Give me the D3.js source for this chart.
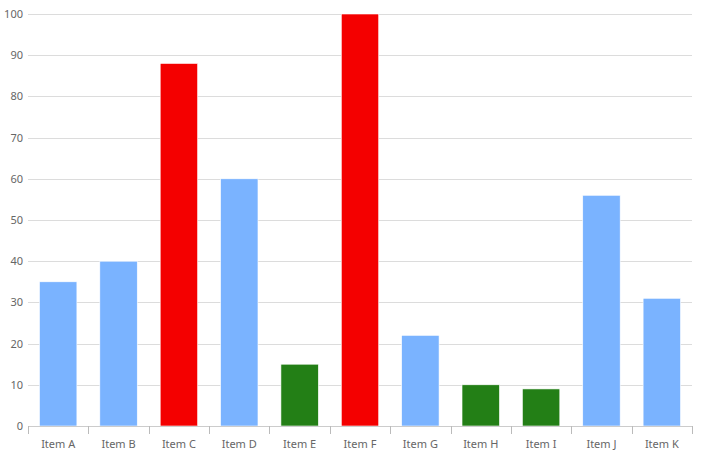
<!DOCTYPE html>
<html><head><meta charset="utf-8">
<script src="https://cdn.jsdelivr.net/npm/d3@7"></script>
<style>body{margin:0;background:#fff;}svg{display:block;}</style>
</head><body><svg id="c" width="702" height="456"></svg>
<script>
const categories = ["Item A","Item B","Item C","Item D","Item E","Item F","Item G","Item H","Item I","Item J","Item K"];
const values = [35,40,88,60,15,100,22,10,9,56,31];
const colorKeys = ["blue","blue","red","blue","green","red","blue","green","green","blue","blue"];
const yTicks = [0,10,20,30,40,50,60,70,80,90,100];
const palette = {blue:"#7ab3ff", red:"#f40000", green:"#237f16"};

(function(){
const svg = d3.select("#c");
const mLeft = 28, mRight = 692, mTop = 14, mBottom = 426;
const x = d3.scaleBand().domain(categories).range([mLeft, mRight]).paddingInner(0).paddingOuter(0);
const y = d3.scaleLinear().domain([0,100]).range([mBottom, mTop]);
const font = "'Noto Sans', sans-serif";

// gridlines
svg.append("g").selectAll("line").data(yTicks.filter(d=>d>0)).join("line")
  .attr("x1", mLeft).attr("x2", mRight)
  .attr("y1", d=>Math.round(y(d))+0.5).attr("y2", d=>Math.round(y(d))+0.5)
  .attr("stroke", "#dcdcdc").attr("stroke-width", 1);

// y labels
svg.append("g").selectAll("text").data(yTicks).join("text")
  .attr("x", 23).attr("y", d=>y(d)+4)
  .attr("text-anchor","end").attr("font-family",font).attr("font-size","11px").attr("fill","#666")
  .text(d=>d);

// bars
const bw = x.bandwidth()*0.62;
svg.append("g").selectAll("rect").data(values).join("rect")
  .attr("x",(d,i)=>x(categories[i]) + (x.bandwidth()-bw)/2)
  .attr("width", bw)
  .attr("y", d=>y(d))
  .attr("height", d=>mBottom - y(d))
  .attr("fill",(d,i)=>palette[colorKeys[i]])
  .attr("stroke","#fff").attr("stroke-width",0.6);

// x axis line
svg.append("line").attr("x1",mLeft).attr("x2",mRight).attr("y1",mBottom+0.5).attr("y2",mBottom+0.5)
  .attr("stroke","#ccc").attr("stroke-width",1);

// ticks at boundaries
const bounds = categories.map(c=>x(c)).concat([mRight]);
svg.append("g").selectAll("line").data(bounds).join("line")
  .attr("x1",d=>Math.round(d)+0.5).attr("x2",d=>Math.round(d)+0.5)
  .attr("y1",mBottom).attr("y2",mBottom+8)
  .attr("stroke","#bbb").attr("stroke-width",1);

// x labels
svg.append("g").selectAll("text").data(categories).join("text")
  .attr("x",d=>x(d)+x.bandwidth()/2).attr("y",448)
  .attr("text-anchor","middle").attr("font-family",font).attr("font-size","11px").attr("fill","#666")
  .text(d=>d);
})();
</script></body></html>
